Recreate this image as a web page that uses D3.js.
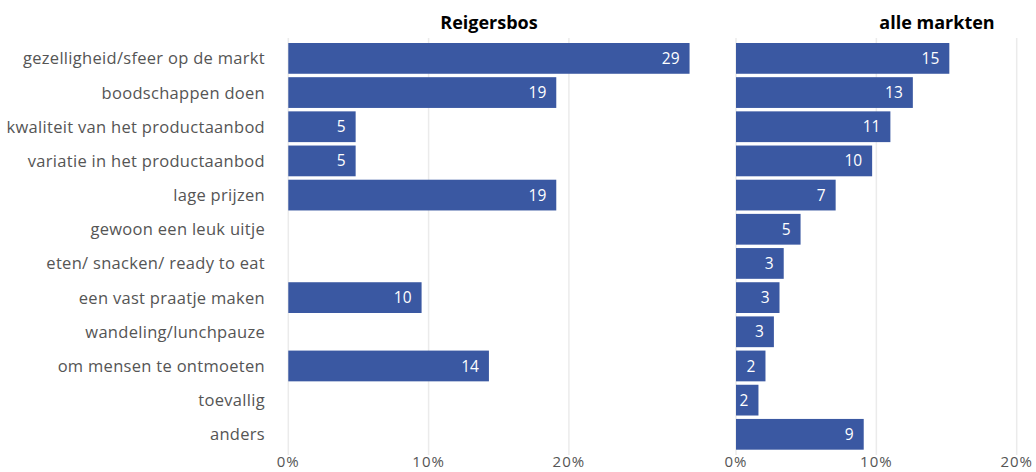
<!DOCTYPE html>
<html><head><meta charset="utf-8">
<script src="https://cdn.jsdelivr.net/npm/d3@7"></script>
<style>body{margin:0;background:#fff}svg{display:block}</style>
</head><body>
<svg id="c" width="1036" height="472"></svg>
<script>
const categories = ["gezelligheid/sfeer op de markt","boodschappen doen","kwaliteit van het productaanbod","variatie in het productaanbod","lage prijzen","gewoon een leuk uitje","eten/ snacken/ ready to eat","een vast praatje maken","wandeling/lunchpauze","om mensen te ontmoeten","toevallig","anders"];
const reigersbos = [28.6,19.1,4.8,4.8,19.1,null,null,9.5,null,14.3,null,null];
const alleMarkten = [15.2,12.6,11.0,9.7,7.1,4.6,3.4,3.1,2.7,2.1,1.6,9.1];
const panelTitles = ["Reigersbos","alle markten"];
const ticks = [0,10,20];
const tickLabels = ["0%","10%","20%"];

const svg = d3.select("#c");
const font = "'Open Sans', sans-serif";
const barColor = "#3a58a2";
const y = d3.scaleBand().domain(categories).range([41.3,451.4]).paddingInner(0.1).paddingOuter(0.05);

const panels = [
  {title: panelTitles[0], values: reigersbos, x: d3.scaleLinear().domain([0,20]).range([288.3,568.9]), titleX: 489},
  {title: panelTitles[1], values: alleMarkten, x: d3.scaleLinear().domain([0,20]).range([736,1016.7]), titleX: 937}
];

panels.forEach(p => {
  const g = svg.append("g");
  g.selectAll("line.grid").data(ticks).enter().append("line")
    .attr("x1", d=>p.x(d)).attr("x2", d=>p.x(d)).attr("y1",38).attr("y2",455)
    .attr("stroke","#ebebeb").attr("stroke-width",1.5);
  g.selectAll("text.tick").data(ticks).enter().append("text")
    .attr("x", d=>p.x(d)).attr("y",467).attr("text-anchor","middle")
    .attr("font-family",font).attr("font-size",15).attr("letter-spacing",1).attr("fill","#555")
    .text((d,i)=>tickLabels[i]);
  const data = categories.map((c,i)=>({c, v:p.values[i]})).filter(d=>d.v!=null);
  g.selectAll("rect").data(data).enter().append("rect")
    .attr("x", p.x(0)).attr("y", d=>y(d.c))
    .attr("width", d=>p.x(d.v)-p.x(0)).attr("height", y.bandwidth())
    .attr("fill", barColor);
  g.selectAll("text.val").data(data).enter().append("text")
    .attr("x", d=>p.x(d.v)-10).attr("y", d=>y(d.c)+y.bandwidth()/2)
    .attr("dy","0.36em").attr("text-anchor","end")
    .attr("font-family",font).attr("font-size",15.5).attr("fill","#fff")
    .text(d=>Math.round(d.v));
  g.append("text").attr("x",p.titleX).attr("y",29).attr("text-anchor","middle")
    .attr("font-family",font).attr("font-weight",700).attr("font-size",18).attr("fill","#000")
    .text(p.title);
});

svg.selectAll("text.cat").data(categories).enter().append("text")
  .attr("x",265).attr("y", d=>y(d)+y.bandwidth()/2).attr("dy","0.36em")
  .attr("text-anchor","end").attr("font-family",font).attr("font-size",16.5).attr("letter-spacing",0.3).attr("fill","#555")
  .text(d=>d);
</script>
</body></html>
